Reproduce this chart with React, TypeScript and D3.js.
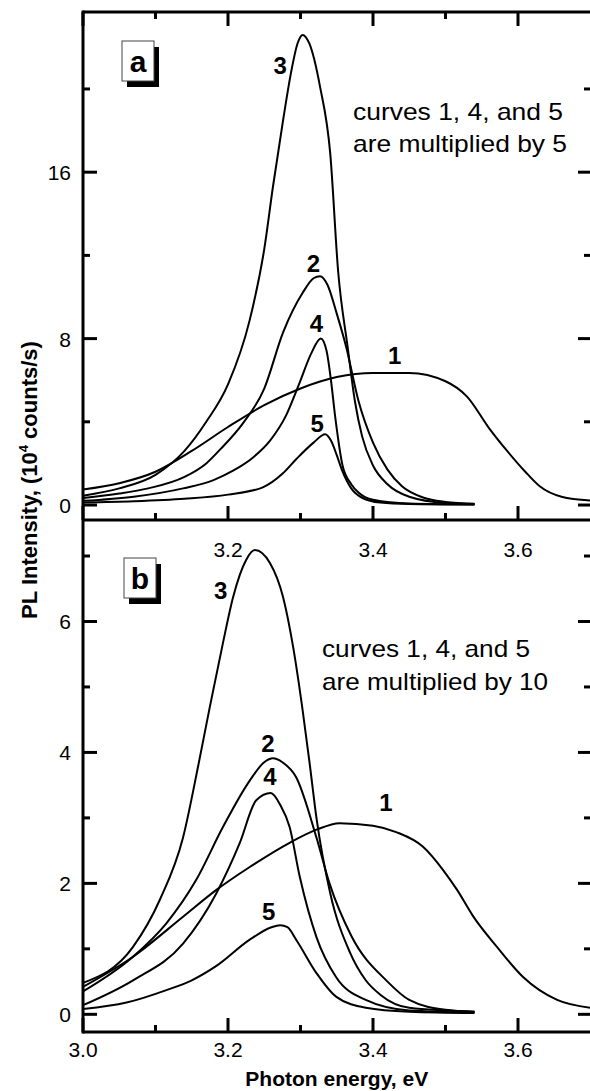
import React from "react";
import * as d3 from "d3";

// ---------- data (photon energy eV, PL intensity 10^4 counts/s) ----------
const curveA1: [number, number][] = [[3.0,0.75],[3.05,1.05],[3.1,1.6],[3.15,2.6],[3.2,3.75],[3.25,4.8],[3.3,5.6],[3.35,6.15],[3.4,6.35],[3.45,6.35],[3.5,5.95],[3.53,5.2],[3.56,3.7],[3.585,2.6],[3.61,1.6],[3.63,0.9],[3.66,0.4],[3.7,0.22]];
const curveA2: [number, number][] = [[3.0,0.34],[3.05,0.55],[3.09,0.8],[3.14,1.35],[3.17,2.0],[3.19,2.7],[3.22,3.9],[3.25,5.6],[3.276,8.3],[3.303,10.2],[3.318,10.9],[3.327,11.0],[3.337,10.6],[3.35,9.2],[3.363,7.6],[3.38,5.0],[3.4,3.0],[3.42,1.7],[3.44,0.9],[3.47,0.35],[3.5,0.15],[3.54,0.06]];
const curveA3: [number, number][] = [[3.0,0.45],[3.05,0.8],[3.1,1.45],[3.14,2.6],[3.17,4.0],[3.2,5.8],[3.23,8.9],[3.25,12.3],[3.262,15.3],[3.276,18.5],[3.287,20.8],[3.296,22.2],[3.303,22.6],[3.312,22.2],[3.327,20.1],[3.341,16.9],[3.352,11.2],[3.365,7.6],[3.375,5.0],[3.385,3.3],[3.4,1.9],[3.42,1.0],[3.45,0.4],[3.5,0.1],[3.54,0.05]];
const curveA4: [number, number][] = [[3.0,0.2],[3.07,0.4],[3.138,0.8],[3.18,1.2],[3.207,1.65],[3.235,2.3],[3.258,3.1],[3.28,4.3],[3.299,5.9],[3.315,7.3],[3.328,8.0],[3.336,7.4],[3.342,6.0],[3.348,4.2],[3.358,1.9],[3.37,1.0],[3.38,0.6],[3.4,0.25],[3.45,0.07],[3.54,0.03]];
const curveA5: [number, number][] = [[3.0,0.12],[3.07,0.18],[3.14,0.3],[3.2,0.5],[3.248,0.85],[3.275,1.5],[3.294,2.2],[3.318,3.0],[3.334,3.4],[3.342,3.1],[3.35,2.4],[3.357,1.7],[3.37,0.8],[3.385,0.35],[3.41,0.12],[3.45,0.05],[3.54,0.02]];

const curveB1: [number, number][] = [[3.0,0.42],[3.069,0.88],[3.138,1.49],[3.184,1.9],[3.23,2.25],[3.285,2.62],[3.322,2.82],[3.354,2.92],[3.4,2.88],[3.433,2.78],[3.469,2.56],[3.497,2.2],[3.516,1.9],[3.538,1.5],[3.571,1.03],[3.607,0.57],[3.654,0.22],[3.7,0.1]];
const curveB2: [number, number][] = [[3.0,0.35],[3.069,0.88],[3.115,1.39],[3.156,2.05],[3.193,2.86],[3.23,3.57],[3.25,3.85],[3.262,3.91],[3.275,3.85],[3.294,3.62],[3.322,2.7],[3.34,2.0],[3.37,1.2],[3.42,0.5],[3.45,0.22],[3.5,0.07],[3.54,0.04]];
const curveB3: [number, number][] = [[3.0,0.48],[3.069,1.03],[3.106,1.75],[3.138,2.7],[3.159,3.8],[3.175,4.7],[3.193,5.67],[3.207,6.37],[3.225,6.94],[3.237,7.09],[3.258,6.89],[3.276,6.37],[3.29,5.6],[3.303,4.64],[3.313,3.8],[3.322,3.0],[3.341,1.85],[3.368,0.95],[3.39,0.52],[3.41,0.3],[3.45,0.1],[3.54,0.04]];
const curveB4: [number, number][] = [[3.0,0.14],[3.069,0.52],[3.138,1.08],[3.184,1.85],[3.216,2.61],[3.239,3.27],[3.259,3.38],[3.272,3.2],[3.285,2.86],[3.299,2.1],[3.322,1.18],[3.349,0.57],[3.39,0.22],[3.45,0.06],[3.54,0.03]];
const curveB5: [number, number][] = [[3.0,0.08],[3.06,0.18],[3.115,0.37],[3.15,0.52],[3.184,0.74],[3.23,1.14],[3.26,1.33],[3.272,1.36],[3.282,1.33],[3.294,1.14],[3.322,0.63],[3.349,0.27],[3.39,0.1],[3.45,0.04],[3.54,0.02]];

const xMajor = [3.0, 3.2, 3.4, 3.6];
const xMinor = [3.1, 3.3, 3.5];
const xLabelsA = ["3.2", "3.4", "3.6"];
const xLabelsB = ["3.0", "3.2", "3.4", "3.6"];
const yMajorA = [0, 8, 16];
const yMinorA = [4, 12, 20];
const yMajorB = [0, 2, 4, 6];
const yMinorB = [1, 3, 5, 7];

// curve labels: [label, energy, intensity]
const labelsA: [string, number, number][] = [["3", 3.272, 20.7], ["2", 3.318, 11.2], ["4", 3.322, 8.3], ["5", 3.323, 3.5], ["1", 3.43, 6.8]];
const labelsB: [string, number, number][] = [["3", 3.19, 6.35], ["2", 3.255, 4.0], ["4", 3.258, 3.5], ["5", 3.256, 1.44], ["1", 3.418, 3.1]];

const FONT = "'Liberation Sans', Arial, Helvetica, sans-serif";

export default function App() {
  const W = 590, H = 1091;
  const left = 83, right = 590.5, topA = 12, mid = 520, bot = 1032;
  const spineR = 593;
  const x = d3.scaleLinear().domain([3.0, 3.7]).range([left, right]);
  const yA = d3.scaleLinear().domain([-0.72, 23.7]).range([mid, topA]);
  const yB = d3.scaleLinear().domain([-0.27, 7.55]).range([bot, mid]);

  const lineA = d3.line<[number, number]>().x(d => x(d[0])).y(d => yA(d[1])).curve(d3.curveMonotoneX);
  const lineB = d3.line<[number, number]>().x(d => x(d[0])).y(d => yB(d[1])).curve(d3.curveMonotoneX);

  const curvesA = [curveA1, curveA2, curveA3, curveA4, curveA5];
  const curvesB = [curveB1, curveB2, curveB3, curveB4, curveB5];

  const MAJ = 14, MIN = 7, TW = 3;

  const yTicks = (scale: d3.ScaleLinear<number, number>, major: number[], minor: number[], key: string) => (
    <g key={key}>
      {major.map(v => (
        <g key={"M" + v}>
          <line x1={left} x2={left + MAJ} y1={scale(v)} y2={scale(v)} stroke="#000" strokeWidth={TW} />
          <line x1={W} x2={W - MAJ + 2} y1={scale(v)} y2={scale(v)} stroke="#000" strokeWidth={TW} />
        </g>
      ))}
      {minor.map(v => (
        <g key={"m" + v}>
          <line x1={left} x2={left + MIN} y1={scale(v)} y2={scale(v)} stroke="#000" strokeWidth={TW} />
          <line x1={W} x2={W - MIN + 1} y1={scale(v)} y2={scale(v)} stroke="#000" strokeWidth={TW} />
        </g>
      ))}
      {major.map(v => (
        <text key={"t" + v} x={left - 12} y={scale(v) + 8} textAnchor="end" fontSize={21} fontFamily={FONT}>{v}</text>
      ))}
    </g>
  );

  const xTicks = (y0: number, dir: number, key: string) => (
    <g key={key}>
      {xMajor.map(v => (
        <line key={"M" + v} x1={x(v)} x2={x(v)} y1={y0} y2={y0 + dir * MAJ} stroke="#000" strokeWidth={TW} />
      ))}
      {xMinor.map(v => (
        <line key={"m" + v} x1={x(v)} x2={x(v)} y1={y0} y2={y0 + dir * MIN} stroke="#000" strokeWidth={TW} />
      ))}
    </g>
  );

  const labelBox = (txt: string, bx: number, by: number) => (
    <g>
      <rect x={bx + 5} y={by + 6} width={32} height={40} fill="#000" />
      <rect x={bx} y={by} width={32} height={40} fill="#fff" stroke="#444" strokeWidth={1} />
      <text x={bx + 16} y={by + 31} textAnchor="middle" fontSize={30} fontWeight="bold" fontFamily={FONT}>{txt}</text>
    </g>
  );

  return (
    <svg width={W} height={H} style={{ position: "absolute", left: 0, top: 0, background: "#fff" }}>
      <rect x={0} y={0} width={W} height={H} fill="#fff" />
      {/* curves */}
      <g fill="none" stroke="#000" strokeWidth={2} strokeLinejoin="round">
        {curvesA.map((c, i) => <path key={"a" + i} d={lineA(c) || ""} />)}
        {curvesB.map((c, i) => <path key={"b" + i} d={lineB(c) || ""} />)}
      </g>
      {/* frame */}
      <g fill="none" stroke="#000" strokeWidth={TW}>
        <line x1={left} x2={left} y1={topA - 1.5} y2={bot + 1.5} />
        <line x1={spineR} x2={spineR} y1={topA - 1.5} y2={bot + 1.5} />
        <line x1={left} x2={spineR} y1={topA} y2={topA} />
        <line x1={left} x2={spineR} y1={mid} y2={mid} />
        <line x1={left} x2={spineR} y1={bot} y2={bot} />
      </g>
      {xTicks(topA, 1, "xt")}
      {xTicks(mid, -1, "xm")}
      {xTicks(bot, -1, "xb")}
      {yTicks(yA, yMajorA, yMinorA, "ya")}
      {yTicks(yB, yMajorB, yMinorB, "yb")}
      {/* x tick labels */}
      {xLabelsA.map(s => (
        <text key={"la" + s} x={x(+s)} y={mid + 37} textAnchor="middle" fontSize={21} fontFamily={FONT}>{s}</text>
      ))}
      {xLabelsB.map(s => (
        <text key={"lb" + s} x={x(+s)} y={bot + 25} textAnchor="middle" fontSize={21} fontFamily={FONT}>{s}</text>
      ))}
      {/* curve labels */}
      {labelsA.map(([t, e, v]) => (
        <text key={"ca" + t} x={x(e)} y={yA(v)} textAnchor="middle" fontSize={24} fontWeight="bold" fontFamily={FONT}>{t}</text>
      ))}
      {labelsB.map(([t, e, v]) => (
        <text key={"cb" + t} x={x(e)} y={yB(v)} textAnchor="middle" fontSize={24} fontWeight="bold" fontFamily={FONT}>{t}</text>
      ))}
      {/* annotations */}
      <text x={353} y={120} fontSize={24} fontFamily={FONT} textLength={210} lengthAdjust="spacingAndGlyphs">curves 1, 4, and 5</text>
      <text x={353} y={152} fontSize={24} fontFamily={FONT} textLength={214} lengthAdjust="spacingAndGlyphs">are multiplied by 5</text>
      <text x={322} y={657} fontSize={24} fontFamily={FONT} textLength={208} lengthAdjust="spacingAndGlyphs">curves 1, 4, and 5</text>
      <text x={322} y={690} fontSize={24} fontFamily={FONT} textLength={226} lengthAdjust="spacingAndGlyphs">are multiplied by 10</text>
      {labelBox("a", 122, 41)}
      {labelBox("b", 124, 558)}
      {/* axis titles */}
      <text x={(left + right) / 2} y={1086} textAnchor="middle" fontSize={21} fontWeight="bold" fontFamily={FONT}>Photon energy, eV</text>
      <text transform="translate(37,480) rotate(-90)" textAnchor="middle" fontSize={22} fontWeight="bold" fontFamily={FONT}>
        PL Intensity, (10<tspan fontSize={13} dy={-9}>4</tspan><tspan dy={9}> counts/s)</tspan>
      </text>
    </svg>
  );
}
